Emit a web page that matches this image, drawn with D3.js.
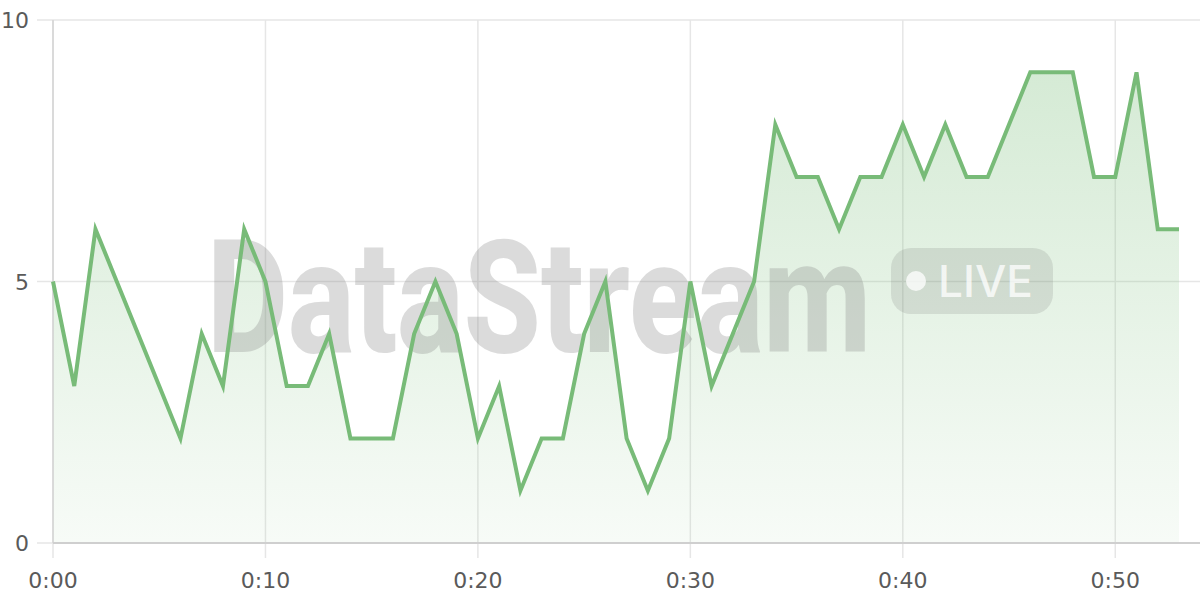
<!DOCTYPE html>
<html><head><meta charset="utf-8">
<script src="https://cdn.jsdelivr.net/npm/d3@7"></script>
<style>html,body{margin:0;padding:0;background:#fff;}svg{display:block;}</style>
</head><body>
<svg id="c" width="1200" height="600"></svg>
<script>
const minutes = d3.range(0, 54);
const values = [5,3,6,5,4,3,2,4,3,6,5,3,3,4,2,2,2,4,5,4,2,3,1,2,2,4,5,2,1,2,5,3,4,5,8,7,7,6,7,7,8,7,8,7,7,8,9,9,9,7,7,9,6,6];
const xTicks = [0,10,20,30,40,50];
const yTicks = [0,5,10];
const data = minutes.map((m,i)=>({m, v: values[i]}));

const svg = d3.select("#c");
const L = 53, T = 20, B = 543;
const x = d3.scaleLinear().domain([0,53]).range([L, 1179]);
const y = d3.scaleLinear().domain([0,10]).range([B, T]);
const font = "'DejaVu Sans', sans-serif";

const defs = svg.append("defs");
const g = defs.append("linearGradient").attr("id","fillg").attr("x1",0).attr("y1",0).attr("x2",0).attr("y2",1);
g.append("stop").attr("offset","0%").attr("stop-color","#7cbf7c").attr("stop-opacity",0.32);
g.append("stop").attr("offset","100%").attr("stop-color","#7cbf7c").attr("stop-opacity",0.06);

// horizontal grid
svg.append("g").selectAll("line").data(yTicks).join("line")
  .attr("x1", 37).attr("x2", 1200)
  .attr("y1", d=>y(d)).attr("y2", d=>y(d))
  .attr("stroke", "#e6e6e6").attr("stroke-width", 1.5);
// vertical grid
svg.append("g").selectAll("line").data(xTicks).join("line")
  .attr("x1", d=>x(d)).attr("x2", d=>x(d))
  .attr("y1", T).attr("y2", B+15)
  .attr("stroke", "#e6e6e6").attr("stroke-width", 1.5);

// area
const area = d3.area().x(d=>x(d.m)).y0(y(0)).y1(d=>y(d.v));
svg.append("path").datum(data).attr("d", area).attr("fill","url(#fillg)");

// axes lines
svg.append("line").attr("x1", L).attr("x2", L).attr("y1", T).attr("y2", B)
  .attr("stroke","#d4d4d4").attr("stroke-width",1.5);
svg.append("line").attr("x1", L).attr("x2", 1200).attr("y1", B).attr("y2", B)
  .attr("stroke","#cfcfcf").attr("stroke-width",2);

// watermark
const wm = svg.append("g").attr("opacity", 0.27);
const wmText = wm.append("text").attr("x", 0).attr("y", 0)
  .attr("font-family","Roboto, sans-serif").attr("font-weight",800)
  .attr("font-size",158)
  .attr("fill","rgb(125,125,125)").text("DataStream");
const natW = wmText.node().getComputedTextLength() || 800;
wmText.attr("transform", `translate(207,352) scale(${664/natW},1)`);

const badge = svg.append("g");
badge.append("rect").attr("x",891).attr("y",248).attr("width",162).attr("height",66).attr("rx",20)
  .attr("fill","rgba(100,100,100,0.16)");
badge.append("circle").attr("cx",916).attr("cy",281).attr("r",10).attr("fill","rgba(255,255,255,0.75)");
badge.append("text").attr("x",938).attr("y",297)
  .attr("font-family","Inter, sans-serif").attr("font-weight",500)
  .attr("font-size",44).attr("textLength",95).attr("lengthAdjust","spacingAndGlyphs")
  .attr("fill","rgba(255,255,255,0.75)").text("LIVE");

// line
const line = d3.line().x(d=>x(d.m)).y(d=>y(d.v));
svg.append("path").datum(data).attr("d", line).attr("fill","none")
  .attr("stroke","#78bb78").attr("stroke-width",4).attr("stroke-linejoin","miter");

// tick labels
svg.append("g").selectAll("text").data(yTicks).join("text")
  .attr("x", 29).attr("y", d=>y(d)+8).attr("text-anchor","end")
  .attr("font-family",font).attr("font-size",22).attr("fill","#5a5a5a").text(d=>d);
svg.append("g").selectAll("text").data(xTicks).join("text")
  .attr("x", d=>x(d)).attr("y", 588).attr("text-anchor","middle")
  .attr("font-family",font).attr("font-size",22).attr("fill","#5a5a5a")
  .text(d=>"0:"+String(d).padStart(2,"0"));
</script>
</body></html>
